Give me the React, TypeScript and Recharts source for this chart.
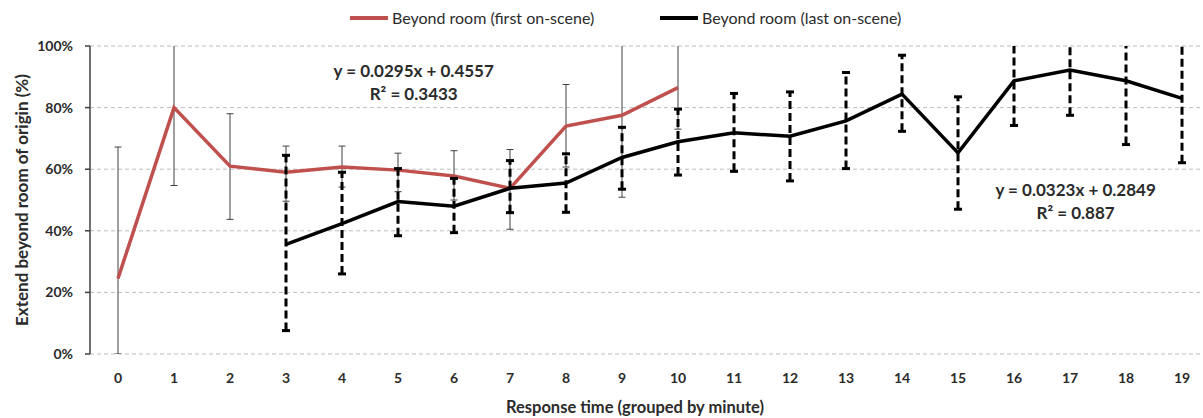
import React from 'react';
import * as R from 'recharts';
import { LineChart, Line, XAxis, YAxis, CartesianGrid, ErrorBar, Legend, ReferenceDot } from 'recharts';

// Categories (response time, grouped by minute)
const minutes = [0, 1, 2, 3, 4, 5, 6, 7, 8, 9, 10, 11, 12, 13, 14, 15, 16, 17, 18, 19];
const minuteTickLabels = [0, 1, 2, 3, 4, 5, 6, 7, 8, 9, 10, 11, 12, 13, 14, 15, 16, 17, 18, 19];
const boundaryTicks = [-0.5, 0.5, 1.5, 2.5, 3.5, 4.5, 5.5, 6.5, 7.5, 8.5, 9.5, 10.5, 11.5, 12.5, 13.5, 14.5, 15.5, 16.5, 17.5, 18.5, 19.5];
const yTicks = [0, 0.2, 0.4, 0.6, 0.8, 1];

// Beyond room (first on-scene)
const firstOnScene = [0.245, 0.80, 0.61, 0.59, 0.607, 0.597, 0.578, 0.538, 0.74, 0.775, 0.865, null, null, null, null, null, null, null, null, null];
const firstLow = [0, 0.547, 0.437, 0.496, 0.542, 0.527, 0.50, 0.405, 0.607, 0.509, 0.73, null, null, null, null, null, null, null, null, null];
const firstHigh = [0.672, 1.1, 0.78, 0.675, 0.675, 0.652, 0.66, 0.664, 0.875, 1.1, 1.1, null, null, null, null, null, null, null, null, null];

// Beyond room (last on-scene)
const lastOnScene = [null, null, null, 0.356, 0.423, 0.495, 0.48, 0.538, 0.555, 0.638, 0.689, 0.718, 0.707, 0.757, 0.844, 0.653, 0.887, 0.922, 0.887, 0.83];
const lastLow = [null, null, null, 0.076, 0.26, 0.384, 0.394, 0.459, 0.46, 0.535, 0.581, 0.593, 0.562, 0.602, 0.723, 0.47, 0.742, 0.775, 0.68, 0.621];
const lastHigh = [null, null, null, 0.645, 0.59, 0.602, 0.57, 0.628, 0.65, 0.736, 0.795, 0.846, 0.851, 0.914, 0.97, 0.835, 1.1, 1.1, 1.1, 1.1];

const RED = '#C0504D';
const TEXT = '#2b2b2b';

const rows = minutes.map((m, i) => {
  const row: any = { minute: m };
  if (firstOnScene[i] != null) {
    row.first = firstOnScene[i];
    row.firstErr = [(firstOnScene[i] as number) - (firstLow[i] as number), (firstHigh[i] as number) - (firstOnScene[i] as number)];
  }
  if (lastOnScene[i] != null) {
    row.last = lastOnScene[i];
    row.lastErr = [(lastOnScene[i] as number) - (lastLow[i] as number), (lastHigh[i] as number) - (lastOnScene[i] as number)];
  }
  return row;
});

const usePlotAreaSafe: () => any = (R as any).usePlotArea || (() => null);

const PlotClip = () => {
  const area = usePlotAreaSafe();
  if (!area) return null;
  return (
    <defs>
      <clipPath id="plotClip">
        <rect x={area.x} y={area.y} width={area.width} height={area.height} />
      </clipPath>
    </defs>
  );
};

const LegendContent = () => (
  <div style={{ position: 'relative', height: 46, fontFamily: 'Lato', fontSize: 16, color: TEXT }}>
    <div style={{ position: 'absolute', left: 350, top: 8, display: 'flex', alignItems: 'center', lineHeight: '20px' }}>
      <span style={{ display: 'inline-block', width: 38, height: 4, background: RED, marginRight: 4 }} />
      <span>Beyond room (first on-scene)</span>
    </div>
    <div style={{ position: 'absolute', left: 660, top: 8, display: 'flex', alignItems: 'center', lineHeight: '20px' }}>
      <span style={{ display: 'inline-block', width: 38, height: 4, background: '#000', marginRight: 4 }} />
      <span>Beyond room (last on-scene)</span>
    </div>
  </div>
);

const eqStyle = { fontFamily: 'Lato', fontSize: 17, fontWeight: 700, fill: TEXT };

export default function App() {
  return (
    <div style={{ position: 'absolute', left: 0, top: 0, width: 1203, height: 418, overflow: 'hidden', background: '#fff' }}>
      <LineChart width={1215} height={418} data={rows} margin={{ top: 0, right: 5, bottom: 0, left: 0 }} style={{ fontFamily: 'Lato' }}>
        <PlotClip />
        <Legend verticalAlign="top" align="left" content={LegendContent} wrapperStyle={{ top: 0, left: 0, width: 1215 }} />
        <CartesianGrid vertical={false} horizontal={true} stroke="#BDBDBD" strokeDasharray="4 3" xAxisId="bounds" />
        <XAxis
          xAxisId="bounds"
          dataKey="minute"
          type="number"
          domain={[-0.5, 19.5]}
          ticks={boundaryTicks}
          tick={false}
          tickSize={6}
          height={0}
          axisLine={{ stroke: '#000', strokeWidth: 2 }}
          tickLine={{ stroke: '#000', strokeWidth: 1.5 }}
        />
        <XAxis
          xAxisId="labels"
          dataKey="minute"
          type="number"
          domain={[-0.5, 19.5]}
          ticks={minuteTickLabels}
          interval={0}
          axisLine={false}
          tickLine={false}
          tickSize={0}
          tickMargin={19}
          height={64}
          tick={{ fontSize: 14, fontWeight: 700, fill: TEXT, fontFamily: 'Lato' }}
          label={{ value: 'Response time (grouped by minute)', position: 'insideBottom', offset: 5, dx: -15, style: { fontSize: 16.5, fontWeight: 700, fill: TEXT, fontFamily: 'Lato' } }}
        />
        <YAxis
          domain={[0, 1]}
          allowDataOverflow
          ticks={yTicks}
          width={90}
          tickSize={5}
          tickMargin={12}
          tickFormatter={(v: number) => `${Math.round(v * 100)}%`}
          axisLine={{ stroke: '#404040', strokeWidth: 1.5 }}
          tickLine={{ stroke: '#404040', strokeWidth: 1.5 }}
          tick={{ fontSize: 14, fontWeight: 700, fill: TEXT, fontFamily: 'Lato' }}
          label={{ value: 'Extend beyond room of origin (%)', angle: -90, position: 'insideLeft', offset: 22, style: { textAnchor: 'middle', fontSize: 17, fontWeight: 700, fill: TEXT, fontFamily: 'Lato' } }}
        />
        <Line
          xAxisId="bounds"
          dataKey="first"
          stroke={RED}
          strokeWidth={3.5}
          dot={false}
          activeDot={false}
          isAnimationActive={false}
        >
          <ErrorBar dataKey="firstErr" width={3.5} strokeWidth={1} stroke="#404040" clipPath="url(#plotClip)" />
        </Line>
        <Line
          xAxisId="bounds"
          dataKey="last"
          stroke="#000"
          strokeWidth={3.5}
          dot={false}
          activeDot={false}
          isAnimationActive={false}
        >
          <ErrorBar dataKey="lastErr" width={4} strokeWidth={3} stroke="#000" strokeDasharray="8 4" clipPath="url(#plotClip)" />
        </Line>
        <ReferenceDot xAxisId="bounds" x={5.28} y={0.919} r={0} fill="none" stroke="none"
          label={{ value: 'y = 0.0295x + 0.4557', position: 'center', style: eqStyle }} />
        <ReferenceDot xAxisId="bounds" x={5.28} y={0.844} r={0} fill="none" stroke="none"
          label={{ value: 'R² = 0.3433', position: 'center', style: eqStyle }} />
        <ReferenceDot xAxisId="bounds" x={17.1} y={0.532} r={0} fill="none" stroke="none"
          label={{ value: 'y = 0.0323x + 0.2849', position: 'center', style: eqStyle }} />
        <ReferenceDot xAxisId="bounds" x={17.1} y={0.458} r={0} fill="none" stroke="none"
          label={{ value: 'R² = 0.887', position: 'center', style: eqStyle }} />
      </LineChart>
    </div>
  );
}
